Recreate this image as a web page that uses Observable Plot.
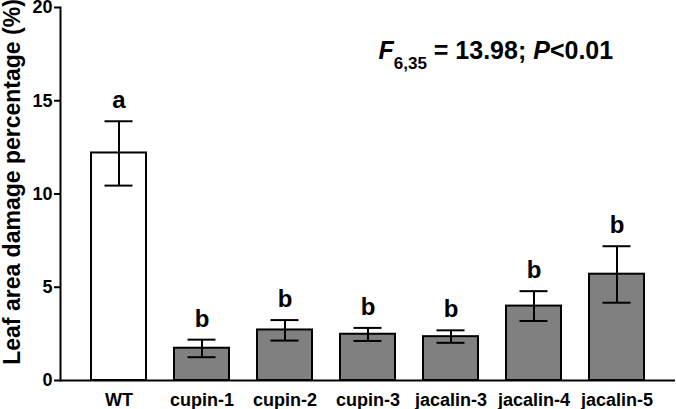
<!DOCTYPE html>
<html>
<head>
<meta charset="utf-8">
<script src="https://cdn.jsdelivr.net/npm/d3@7"></script>
<script src="https://cdn.jsdelivr.net/npm/@observablehq/plot@0.6"></script>
<style>
  html, body { margin: 0; padding: 0; background: #fff; }
  svg { font-family: "Liberation Sans", Arial, sans-serif; }
</style>
</head>
<body>
<div id="chart"></div>
<script>
const categories = ["WT", "cupin-1", "cupin-2", "cupin-3", "jacalin-3", "jacalin-4", "jacalin-5"];
const means = [12.2, 1.73, 2.71, 2.48, 2.35, 3.99, 5.70];
const upper = [13.9, 2.19, 3.24, 2.82, 2.69, 4.79, 7.2];
const lower = [10.45, 1.25, 2.14, 2.12, 2.02, 3.19, 4.17];
const letters = ["a", "b", "b", "b", "b", "b", "b"];
const fills = ["#ffffff", "#808080", "#808080", "#808080", "#808080", "#808080", "#808080"];
const yTicks = [0, 5, 10, 15, 20];
const yLabel = "Leaf area damage percentage (%)";
const statText = ["F6,35 = 13.98; P<0.01"];

const data = categories.map((c, i) => ({
  cat: c, mean: means[i], hi: upper[i], lo: lower[i], letter: letters[i], fill: fills[i]
}));

const chart = Plot.plot({
  width: 676,
  height: 409,
  marginLeft: 60,
  marginRight: 1,
  marginTop: 7,
  marginBottom: 29,
  style: { fontFamily: "'Liberation Sans', Arial, sans-serif", color: "#000", background: "#fff" },
  x: { domain: categories, padding: 1/3, label: null },
  y: { domain: [0, 20], label: null },
  marks: [
    Plot.barY(data, { x: "cat", y: "mean", fill: "fill", stroke: "#000", strokeWidth: 2 }),
    Plot.ruleX(data, { x: "cat", y1: "lo", y2: "hi", stroke: "#000", strokeWidth: 2 }),
    Plot.tickY(data, { x: "cat", y: "hi", stroke: "#000", strokeWidth: 2, insetLeft: 13.5, insetRight: 13.5 }),
    Plot.tickY(data, { x: "cat", y: "lo", stroke: "#000", strokeWidth: 2, insetLeft: 13.5, insetRight: 13.5 }),
    Plot.text(data, { x: "cat", y: "hi", text: "letter", dy: -13, lineAnchor: "bottom", fontSize: 24, fontWeight: "bold", fill: "#000" }),
    Plot.axisX({ tickSize: 0, tickPadding: 13, fontSize: 18, fontWeight: "bold", label: null }),
    Plot.axisY({ ticks: yTicks, tickSize: 6, tickPadding: 2, fontSize: 18, fontWeight: "bold", label: null, strokeWidth: 2 }),
    Plot.frame({ anchor: "left", stroke: "#000", strokeWidth: 2 }),
    Plot.ruleY([0], { stroke: "#000", strokeWidth: 2 }),
    Plot.text([yLabel], { frameAnchor: "left", rotate: -90, dx: -48, dy: -12, text: d => d, fontSize: 23, fontWeight: "bold", fill: "#000", textAnchor: "middle", lineAnchor: "middle" }),
    Plot.text(statText, { frameAnchor: "top-left", dx: 318, dy: 43, text: d => d, fontSize: 25, fontWeight: "bold", fill: "#000", textAnchor: "start", lineAnchor: "middle", className: "stat" })
  ]
});

// Format the statistics annotation with italic F/P and a subscript
d3.select(chart).selectAll("g.stat text").each(function () {
  const t = d3.select(this);
  t.text(null);
  t.append("tspan").attr("font-style", "italic").text("F");
  t.append("tspan").attr("font-size", "17px").attr("baseline-shift", "sub").text("6,35");
  t.append("tspan").text(" = 13.98; ");
  t.append("tspan").attr("font-style", "italic").text("P");
  t.append("tspan").text("<0.01");
});

document.getElementById("chart").appendChild(chart);
</script>
</body>
</html>
